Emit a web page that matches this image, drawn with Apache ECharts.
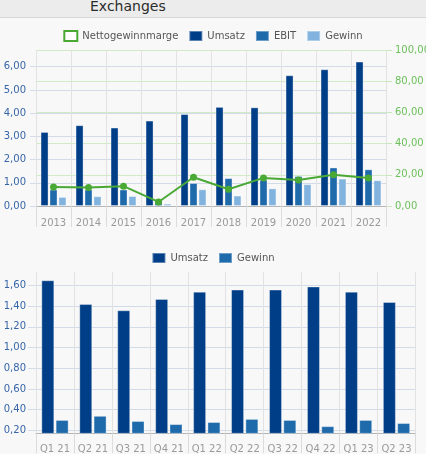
<!DOCTYPE html>
<html>
<head>
<meta charset="utf-8">
<script src="https://cdn.jsdelivr.net/npm/echarts@6/dist/echarts.min.js"></script>
<style>
  html, body { margin: 0; padding: 0; width: 426px; height: 454px; overflow: hidden; background: #f8f8f9; font-family: "DejaVu Sans", sans-serif; }
  #head { position: absolute; left: 0; top: 0; width: 426px; height: 17px; background: #ececec; border-bottom: 1px solid #d7d7d7; }
  #head span { position: absolute; left: 90px; top: -2px; font-size: 14px; color: #2b2b2b; }
  #yearly { position: absolute; left: 0; top: 0; width: 426px; height: 240px; }
  #quarterly { position: absolute; left: 0; top: 240px; width: 426px; height: 214px; }
</style>
</head>
<body>
<div id="yearly"></div>
<div id="quarterly"></div>
<div id="head"><span>Exchanges</span></div>
<script>
// Yearly figures (Mrd.)
const years = ['2013','2014','2015','2016','2017','2018','2019','2020','2021','2022'];
const umsatzYear = [3.19, 3.48, 3.38, 3.68, 3.96, 4.27, 4.25, 5.63, 5.89, 6.22];
const ebitYear   = [0.71, 0.71, 0.71, 0.25, 0.99, 1.20, 1.13, 1.29, 1.66, 1.58];
const gewinnYear = [0.39, 0.42, 0.43, 0.10, 0.72, 0.45, 0.76, 0.94, 1.18, 1.11];
const margeYear  = [12.1, 11.9, 12.7, 2.6, 18.4, 10.7, 18.0, 16.7, 20.0, 18.0];
const yearTicks  = [0, 1, 2, 3, 4, 5, 6];
const margeTicks = [0, 20, 40, 60, 80, 100];

// Quarterly figures (Mrd.)
const quarters      = ['Q1 21','Q2 21','Q3 21','Q4 21','Q1 22','Q2 22','Q3 22','Q4 22','Q1 23','Q2 23'];
const umsatzQuarter = [1.65, 1.42, 1.36, 1.47, 1.54, 1.56, 1.56, 1.59, 1.54, 1.44];
const gewinnQuarter = [0.30, 0.34, 0.29, 0.26, 0.28, 0.31, 0.30, 0.24, 0.30, 0.27];
const quarterTicks  = [0.2, 0.4, 0.6, 0.8, 1.0, 1.2, 1.4, 1.6];

const C_UMSATZ = '#003f87';
const C_EBIT = '#1f6aaa';
const C_GEWINN = '#82b3de';
const C_MARGE = '#4aa935';
const C_MARGE_GRID = '#d3eac9';
const FONT = 'DejaVu Sans';

const fmt = v => v.toFixed(2).replace('.', ',');
const barBorder = { borderColor: 'rgba(255,255,255,0.35)', borderWidth: 1 };

const yearly = echarts.init(document.getElementById('yearly'));
yearly.setOption({
  animation: false,
  textStyle: { fontFamily: FONT },
  legend: {
    top: 25, left: 'center', itemWidth: 13, itemHeight: 10, itemGap: 10,
    textStyle: { fontSize: 10, color: '#555', fontFamily: FONT },
    data: [
      { name: 'Nettogewinnmarge', icon: 'rect', itemStyle: { color: '#fff', borderColor: C_MARGE, borderWidth: 2 } },
      { name: 'Umsatz', icon: 'rect' },
      { name: 'EBIT', icon: 'rect' },
      { name: 'Gewinn', icon: 'rect' }
    ]
  },
  grid: { left: 36, right: 40, top: 50, bottom: 34, outerBoundsMode: 'none', containLabel: false },
  xAxis: {
    type: 'category', data: years,
    axisLine: { lineStyle: { color: '#b5b5b5' } },
    axisTick: { show: true, length: 21, lineStyle: { color: '#dcdcdc' } },
    axisLabel: { color: '#9a9a9a', fontSize: 10, margin: 12, interval: 0 },
    splitLine: { show: true, lineStyle: { color: '#e2e2e2' } }
  },
  yAxis: [
    {
      type: 'value', min: 0, max: 6.72,
      axisLine: { show: false },
      axisTick: { show: true, length: 6, customValues: yearTicks, lineStyle: { color: '#d3dbe8' } },
      axisLabel: { customValues: yearTicks, color: '#3766a6', fontSize: 10, margin: 10, formatter: fmt },
      splitLine: { show: true, lineStyle: { color: '#d3dbe8' } }
    },
    {
      type: 'value', min: 0, max: 100, interval: 20, position: 'right',
      axisLine: { show: false },
      axisTick: { show: true, length: 6, customValues: margeTicks, lineStyle: { color: '#c8e5bb' } },
      axisLabel: { customValues: margeTicks, color: '#6cc05a', fontSize: 10, margin: 9, formatter: fmt },
      splitLine: { show: true, lineStyle: { color: C_MARGE_GRID } }
    }
  ],
  series: [
    { name: 'Umsatz', type: 'bar', data: umsatzYear, barWidth: 8, barGap: '12%', itemStyle: Object.assign({ color: C_UMSATZ }, barBorder) },
    { name: 'EBIT', type: 'bar', data: ebitYear, barWidth: 8, barGap: '12%', itemStyle: Object.assign({ color: C_EBIT }, barBorder) },
    { name: 'Gewinn', type: 'bar', data: gewinnYear, barWidth: 8, barGap: '12%', itemStyle: Object.assign({ color: C_GEWINN }, barBorder) },
    {
      name: 'Nettogewinnmarge', type: 'line', yAxisIndex: 1, data: margeYear,
      symbol: 'circle', symbolSize: 7, z: 5,
      lineStyle: { color: C_MARGE, width: 2 }, itemStyle: { color: C_MARGE },
      // grid lines of the percentage axis
      markLine: {
        silent: true, symbol: 'none', z: 1, animation: false,
        label: { show: false },
        lineStyle: { color: C_MARGE_GRID, width: 1, type: 'solid' },
        emphasis: { disabled: true },
        data: margeTicks.slice(1, -1).map(v => ({ yAxis: v }))
      }
    }
  ]
});

const quarterly = echarts.init(document.getElementById('quarterly'));
quarterly.setOption({
  animation: false,
  textStyle: { fontFamily: FONT },
  legend: {
    top: 7, left: 'center', itemWidth: 13, itemHeight: 10, itemGap: 10,
    textStyle: { fontSize: 10, color: '#555', fontFamily: FONT },
    data: [ { name: 'Umsatz', icon: 'rect' }, { name: 'Gewinn', icon: 'rect' } ]
  },
  grid: { left: 36, right: 10.5, top: 32, bottom: 20.7, outerBoundsMode: 'none', containLabel: false },
  xAxis: {
    type: 'category', data: quarters,
    axisLine: { lineStyle: { color: '#b5b5b5' } },
    axisTick: { show: true, length: 20, lineStyle: { color: '#dcdcdc' } },
    axisLabel: { color: '#9a9a9a', fontSize: 10, margin: 11, interval: 0 },
    splitLine: { show: true, lineStyle: { color: '#e2e2e2' } }
  },
  yAxis: {
    type: 'value', min: 0.171, max: 1.73,
    axisLine: { show: false },
    axisTick: { show: true, length: 8, customValues: quarterTicks, lineStyle: { color: '#d3dbe8' } },
    axisLabel: { customValues: quarterTicks, color: '#3766a6', fontSize: 10, margin: 10, formatter: fmt },
    splitLine: { show: true, lineStyle: { color: '#d3dbe8' } }
  },
  series: [
    { name: 'Umsatz', type: 'bar', data: umsatzQuarter, barWidth: 13, barGap: '10%', itemStyle: Object.assign({ color: C_UMSATZ }, barBorder) },
    { name: 'Gewinn', type: 'bar', data: gewinnQuarter, barWidth: 13, barGap: '10%', itemStyle: Object.assign({ color: C_EBIT }, barBorder) }
  ]
});
</script>
</body>
</html>
